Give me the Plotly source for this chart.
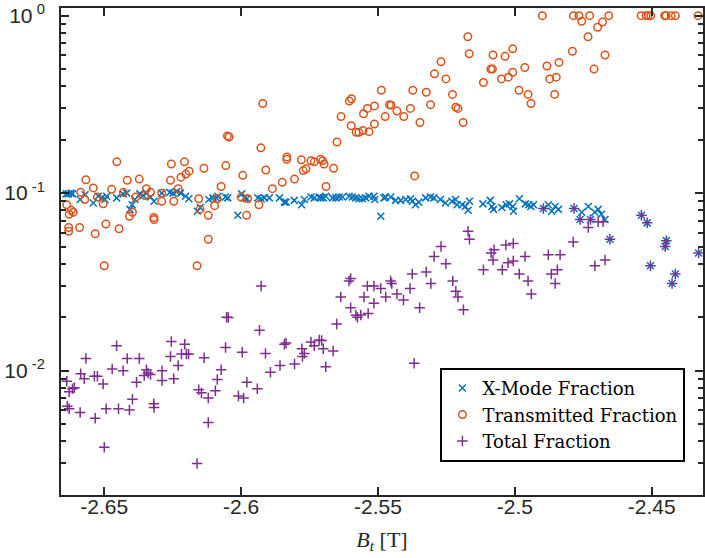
import plotly.graph_objects as go

# ---------------- data ----------------
xmode_bt = [-2.6639, -2.6631, -2.6622, -2.6616, -2.6588, -2.6570, -2.6540, -2.6522, -2.6509, -2.6497,
            -2.6491, -2.6455, -2.6431, -2.6418, -2.6406, -2.6398, -2.6388, -2.6370, -2.6358, -2.6346,
            -2.6331, -2.6318, -2.6290, -2.6261, -2.6249, -2.6236, -2.6221, -2.6203, -2.6191, -2.6160,
            -2.6149, -2.6118, -2.6103, -2.6085, -2.6091, -2.6058, -2.6049, -2.6012, -2.5998, -2.5988,
            -2.5979, -2.5939, -2.5927, -2.5915, -2.5897, -2.5860, -2.5842, -2.5836, -2.5806, -2.5779,
            -2.5769, -2.5745, -2.5733, -2.5715, -2.5709, -2.5700, -2.5691, -2.5666, -2.5654, -2.5642,
            -2.5630, -2.5606, -2.5594, -2.5581, -2.5569, -2.5557, -2.5545, -2.5533, -2.5515, -2.5512,
            -2.5490, -2.5478, -2.5472, -2.5454, -2.5436, -2.5417, -2.5399, -2.5381, -2.5375, -2.5363,
            -2.5351, -2.5326, -2.5308, -2.5296, -2.5272, -2.5254, -2.5230, -2.5217, -2.5211, -2.5193,
            -2.5181, -2.5171, -2.5166, -2.5117, -2.5090, -2.5084, -2.5078, -2.5048, -2.5032, -2.5020,
            -2.5008, -2.5005, -2.4984, -2.4962, -2.4950, -2.4942, -2.4932, -2.4896, -2.4878, -2.4866,
            -2.4853, -2.4841, -2.4784, -2.4756, -2.4732, -2.4762, -2.4724, -2.4708, -2.4696, -2.4684,
            -2.4671, -2.4653, -2.4538, -2.4517, -2.4505, -2.4451, -2.4447, -2.4426, -2.4414, -2.4329]
xmode_frac = [0.099, 0.099, 0.100, 0.099, 0.092, 0.098, 0.088, 0.096, 0.094, 0.092,
              0.096, 0.094, 0.099, 0.100, 0.081, 0.086, 0.092, 0.099, 0.097, 0.100,
              0.095, 0.090, 0.100, 0.101, 0.100, 0.102, 0.100, 0.096, 0.093, 0.079,
              0.083, 0.092, 0.094, 0.096, 0.094, 0.095, 0.094, 0.075, 0.099, 0.094,
              0.093, 0.094, 0.093, 0.094, 0.094, 0.094, 0.089, 0.089, 0.091, 0.086,
              0.092, 0.095, 0.094, 0.095, 0.094, 0.094, 0.096, 0.094, 0.094, 0.095,
              0.095, 0.096, 0.095, 0.094, 0.093, 0.093, 0.094, 0.096, 0.096, 0.092,
              0.074, 0.094, 0.095, 0.095, 0.091, 0.091, 0.092, 0.093, 0.090, 0.086,
              0.089, 0.094, 0.095, 0.094, 0.092, 0.088, 0.090, 0.092, 0.086, 0.086,
              0.084, 0.080, 0.090, 0.087, 0.091, 0.084, 0.081, 0.083, 0.086, 0.087,
              0.084, 0.079, 0.093, 0.087, 0.086, 0.084, 0.086, 0.082, 0.086, 0.079,
              0.084, 0.081, 0.082, 0.078, 0.084, 0.071, 0.071, 0.078, 0.081, 0.076,
              0.071, 0.055, 0.075, 0.068, 0.039, 0.050, 0.054, 0.031, 0.035, 0.046]

trans_bt = [-2.6637, -2.6630, -2.6630, -2.6620, -2.6613, -2.6628, -2.6590, -2.6586, -2.6571, -2.6567,
            -2.6540, -2.6533, -2.6525, -2.6504, -2.6500, -2.6494, -2.6473, -2.6454, -2.6446, -2.6430,
            -2.6416, -2.6408, -2.6397, -2.6385, -2.6372, -2.6352, -2.6346, -2.6331, -2.6319, -2.6318,
            -2.6290, -2.6290, -2.6258, -2.6255, -2.6246, -2.6230, -2.6220, -2.6207, -2.6202, -2.6190,
            -2.6161, -2.6155, -2.6150, -2.6136, -2.6120, -2.6120, -2.6097, -2.6087, -2.6073, -2.6056,
            -2.6050, -2.6044, -2.6000, -2.5994, -2.5980, -2.5976, -2.5935, -2.5928, -2.5921, -2.5910,
            -2.5886, -2.5850, -2.5833, -2.5833, -2.5805, -2.5780, -2.5773, -2.5763, -2.5745, -2.5733,
            -2.5710, -2.5702, -2.5697, -2.5690, -2.5662, -2.5650, -2.5635, -2.5605, -2.5597, -2.5598,
            -2.5580, -2.5570, -2.5555, -2.5533, -2.5553, -2.5539, -2.5513, -2.5513, -2.5488, -2.5474,
            -2.5458, -2.5452, -2.5431, -2.5406, -2.5382, -2.5373, -2.5366, -2.5347, -2.5324, -2.5308,
            -2.5294, -2.5270, -2.5252, -2.5228, -2.5216, -2.5208, -2.5189, -2.5172, -2.5167, -2.5115,
            -2.5088, -2.5082, -2.5080, -2.5049, -2.5036, -2.5024, -2.5008, -2.5008, -2.4985, -2.4964,
            -2.4952, -2.4941, -2.4900, -2.4883, -2.4873, -2.4855, -2.4849, -2.4839, -2.4790, -2.4786,
            -2.4766, -2.4756, -2.4733, -2.4727, -2.4711, -2.4698, -2.4680, -2.4671, -2.4657, -2.4539,
            -2.4521, -2.4513, -2.4504, -2.4453, -2.4448, -2.4429, -2.4414, -2.4331]
trans_frac = [0.086, 0.064, 0.061, 0.080, 0.078, 0.076, 0.064, 0.101, 0.092, 0.119,
              0.107, 0.059, 0.095, 0.087, 0.039, 0.067, 0.105, 0.150, 0.063, 0.101,
              0.118, 0.074, 0.078, 0.095, 0.120, 0.097, 0.106, 0.101, 0.073, 0.071,
              0.100, 0.090, 0.118, 0.146, 0.090, 0.106, 0.123, 0.150, 0.128, 0.133,
              0.039, 0.093, 0.081, 0.138, 0.075, 0.055, 0.085, 0.093, 0.109, 0.143,
              0.210, 0.207, 0.095, 0.126, 0.075, 0.093, 0.086, 0.180, 0.320, 0.135,
              0.106, 0.115, 0.160, 0.155, 0.120, 0.154, 0.134, 0.137, 0.152, 0.150,
              0.155, 0.152, 0.146, 0.109, 0.138, 0.194, 0.270, 0.330, 0.340, 0.240,
              0.220, 0.220, 0.225, 0.222, 0.280, 0.300, 0.310, 0.245, 0.380, 0.270,
              0.315, 0.313, 0.290, 0.270, 0.300, 0.380, 0.125, 0.250, 0.370, 0.315,
              0.470, 0.550, 0.440, 0.360, 0.305, 0.300, 0.250, 0.760, 0.610, 0.420,
              0.500, 0.500, 0.600, 0.440, 0.590, 0.450, 0.480, 0.650, 0.380, 0.510,
              0.360, 0.320, 1.0, 0.520, 0.440, 0.360, 0.450, 0.545, 0.630, 1.0,
              1.0, 0.930, 0.760, 1.0, 0.500, 0.860, 0.920, 0.600, 1.0, 1.0,
              1.0, 1.0, 1.0, 1.0, 1.0, 1.0, 1.0, 1.0]

total_bt = [-2.6637, -2.6635, -2.6628, -2.6628, -2.6616, -2.6609, -2.6588, -2.6586, -2.6573, -2.6567,
            -2.6536, -2.6533, -2.6525, -2.6504, -2.6500, -2.6493, -2.6471, -2.6455, -2.6448, -2.6431,
            -2.6416, -2.6408, -2.6397, -2.6382, -2.6372, -2.6354, -2.6346, -2.6340, -2.6331, -2.6319,
            -2.6318, -2.6289, -2.6289, -2.6258, -2.6255, -2.6246, -2.6230, -2.6218, -2.6206, -2.6200,
            -2.6192, -2.6161, -2.6155, -2.6145, -2.6135, -2.6120, -2.6120, -2.6094, -2.6087, -2.6073,
            -2.6057, -2.6053, -2.6047, -2.6010, -2.5996, -2.5991, -2.5979, -2.5941, -2.5933, -2.5927,
            -2.5911, -2.5893, -2.5858, -2.5842, -2.5836, -2.5805, -2.5778, -2.5776, -2.5769, -2.5745,
            -2.5733, -2.5715, -2.5706, -2.5700, -2.5691, -2.5664, -2.5651, -2.5636, -2.5606, -2.5600,
            -2.5600, -2.5581, -2.5575, -2.5563, -2.5551, -2.5539, -2.5536, -2.5515, -2.5515, -2.5490,
            -2.5472, -2.5454, -2.5450, -2.5431, -2.5407, -2.5383, -2.5375, -2.5368, -2.5348, -2.5324,
            -2.5307, -2.5295, -2.5270, -2.5252, -2.5227, -2.5216, -2.5208, -2.5188, -2.5171, -2.5166,
            -2.5115, -2.5087, -2.5080, -2.5076, -2.5046, -2.5033, -2.5025, -2.5006, -2.5006, -2.4984,
            -2.4963, -2.4952, -2.4940, -2.4896, -2.4878, -2.4867, -2.4853, -2.4845, -2.4835, -2.4787,
            -2.4784, -2.4762, -2.4732, -2.4724, -2.4708, -2.4696, -2.4678, -2.4671, -2.4653, -2.4538,
            -2.4517, -2.4505, -2.4451, -2.4447, -2.4426, -2.4414, -2.4329]
total_frac = [0.0087, 0.0063, 0.0061, 0.0076, 0.0079, 0.0080, 0.0058, 0.0096, 0.0090, 0.0117,
              0.0093, 0.0054, 0.0093, 0.0084, 0.0037, 0.0061, 0.0102, 0.0138, 0.0061, 0.0100,
              0.0117, 0.0060, 0.0069, 0.0086, 0.0117, 0.0094, 0.0101, 0.0097, 0.0095, 0.0065,
              0.0062, 0.0100, 0.0088, 0.0120, 0.0146, 0.0090, 0.0107, 0.0124, 0.0141, 0.0124,
              0.0124, 0.0030, 0.0078, 0.0075, 0.0118, 0.0070, 0.0051, 0.0077, 0.0089, 0.0101,
              0.0135, 0.0200, 0.0199, 0.0072, 0.0127, 0.0070, 0.0086, 0.0079, 0.0169, 0.0300,
              0.0125, 0.0098, 0.0107, 0.0141, 0.0143, 0.0109, 0.0133, 0.0120, 0.0125, 0.0145,
              0.0138, 0.0149, 0.0148, 0.0133, 0.0105, 0.0129, 0.0183, 0.0260, 0.0320, 0.0330,
              0.0226, 0.0205, 0.0200, 0.0206, 0.0260, 0.0300, 0.0210, 0.0300, 0.0240, 0.0290,
              0.0260, 0.0320, 0.0310, 0.0270, 0.0250, 0.0290, 0.0350, 0.0110, 0.0226, 0.0360,
              0.0310, 0.0440, 0.0500, 0.0400, 0.0320, 0.0280, 0.0260, 0.0220, 0.0610, 0.0550,
              0.0370, 0.0460, 0.0420, 0.0480, 0.0370, 0.0510, 0.0405, 0.0520, 0.0415, 0.0350,
              0.0440, 0.0320, 0.0270, 0.082, 0.045, 0.035, 0.031, 0.037, 0.045, 0.053,
              0.082, 0.071, 0.064, 0.071, 0.039, 0.069, 0.069, 0.042, 0.055, 0.075,
              0.068, 0.039, 0.050, 0.054, 0.031, 0.035, 0.046]

x_ticks = [-2.65, -2.6, -2.55, -2.5, -2.45]
x_ticktext = ["-2.65", "-2.6", "-2.55", "-2.5", "-2.45"]
y_ticks = [0.01, 0.1, 1]
y_ticktext = ["10<sup> -2</sup>", "10<sup> -1</sup>", "10<sup> 0</sup>"]
y_minor = [m * 10.0 ** e for e in (-3, -2, -1) for m in range(2, 10)]

AX = "#262626"
BLUE = "#0072BD"
ORANGE = "#D95319"
PURPLE = "#7E2F8E"

fig = go.Figure()
fig.add_trace(go.Scatter(
    x=xmode_bt, y=xmode_frac, mode="markers", name="X-Mode Fraction",
    marker=dict(symbol="x-thin-open", size=7, color=BLUE, line=dict(width=1.5, color=BLUE))))
fig.add_trace(go.Scatter(
    x=trans_bt, y=trans_frac, mode="markers", name="Transmitted Fraction",
    marker=dict(symbol="circle-open", size=7.5, color=ORANGE, line=dict(width=1.5, color=ORANGE))))
fig.add_trace(go.Scatter(
    x=total_bt, y=total_frac, mode="markers", name="Total Fraction",
    marker=dict(symbol="cross-thin-open", size=7.5, color=PURPLE, line=dict(width=1.5, color=PURPLE))))

fig.update_layout(
    width=705, height=558,
    margin=dict(l=61, r=0, t=8, b=63),
    plot_bgcolor="white", paper_bgcolor="white",
    showlegend=True,
    legend=dict(x=0.591, y=0.261, xanchor="left", yanchor="top",
                bordercolor="black", borderwidth=2, bgcolor="white",
                font=dict(family="DejaVu Serif", size=18, color="black"),
                tracegroupgap=0, itemwidth=30),
)
fig.update_xaxes(
    range=[-2.6658, -2.4313], tickvals=x_ticks, ticktext=x_ticktext,
    ticks="inside", ticklen=8, tickwidth=2, tickcolor=AX,
    showline=True, linewidth=2, linecolor=AX, mirror="ticks",
    showgrid=False, zeroline=False, ticklabelstandoff=-8,
    tickfont=dict(family="Liberation Sans", size=21, color=AX),
    title=dict(text="<i>B<sub>t</sub></i> [T]", standoff=14,
               font=dict(family="Liberation Serif", size=22, color=AX)),
)
fig.update_yaxes(
    type="log", range=[-2.7007, 0.043], tickvals=y_ticks, ticktext=y_ticktext,
    ticks="inside", ticklen=8, tickwidth=2, tickcolor=AX,
    showline=True, linewidth=2, linecolor=AX, mirror="ticks",
    showgrid=False, zeroline=False, ticklabelstandoff=10,
    tickfont=dict(family="Liberation Sans", size=21, color=AX),
    minor=dict(tickvals=y_minor, ticks="inside", ticklen=5, tickwidth=2,
               tickcolor=AX, showgrid=False),
)

fig.write_html("out.html")
